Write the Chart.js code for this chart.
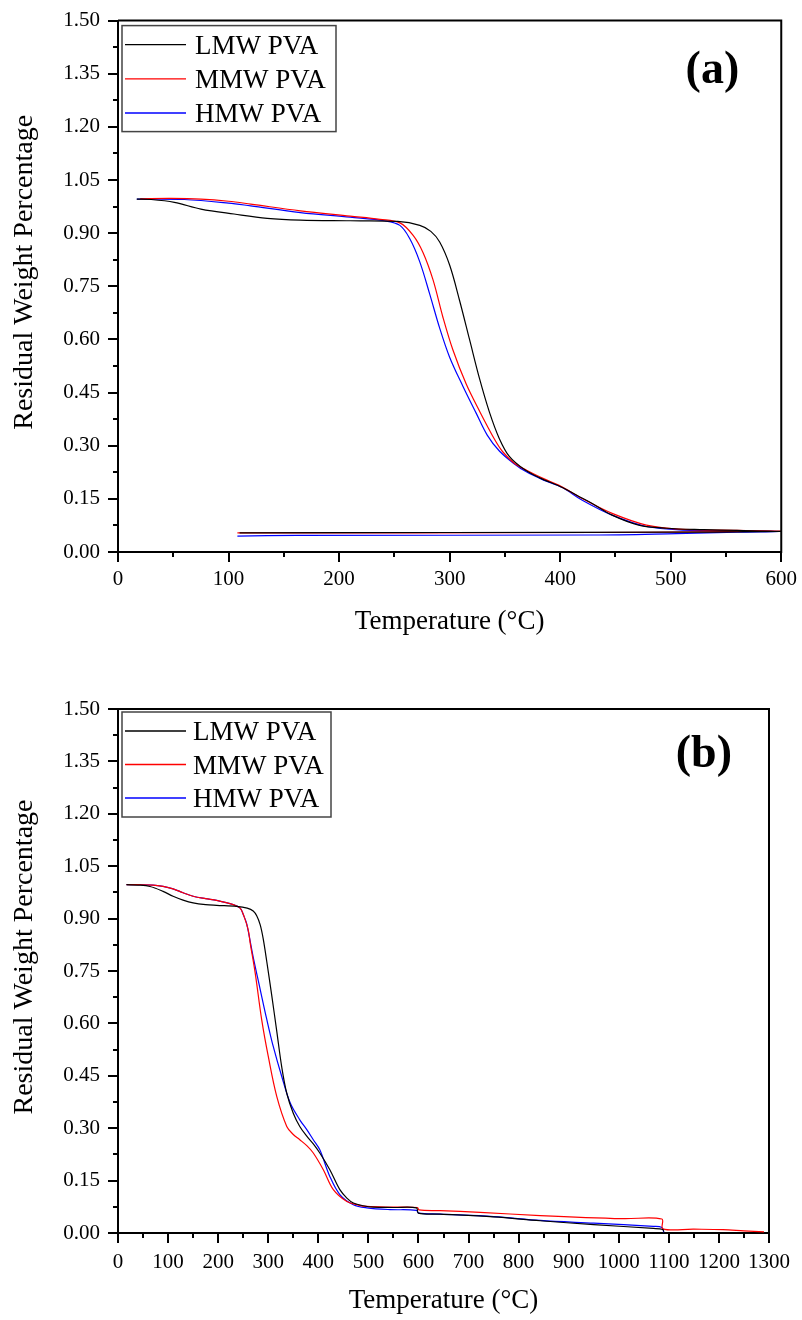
<!DOCTYPE html>
<html>
<head>
<meta charset="utf-8">
<title>Residual weight vs temperature</title>
<script src="https://cdn.jsdelivr.net/npm/chart.js@4/dist/chart.umd.min.js"></script>
<style>
  html, body { margin: 0; padding: 0; background: #fff; }
  canvas { display: block; }
</style>
</head>
<body>
<canvas id="chartA" width="802" height="660" style="width:802px;height:660px"></canvas>
<canvas id="chartB" width="802" height="660" style="width:802px;height:660px"></canvas>
<script>
// ---- data ----
const seriesNames = ['LMW PVA', 'MMW PVA', 'HMW PVA'];
const yTicks = [0, 0.15, 0.30, 0.45, 0.60, 0.75, 0.90, 1.05, 1.20, 1.35, 1.50];
const xTicksA = [0, 100, 200, 300, 400, 500, 600];
const xTicksB = [0, 100, 200, 300, 400, 500, 600, 700, 800, 900, 1000, 1100, 1200, 1300];

// panel (a): heating to 600 °C, then the run steps back down
const tempA_LMW = [17, 30, 51, 75, 105, 135, 165, 210, 253, 273, 283, 291, 300, 309, 318, 327, 336, 345, 354, 368, 381, 402, 415, 429, 447, 471, 496, 530, 560, 600, 500, 300, 110];
const weightA_LMW = [0.996, 0.995, 0.987, 0.968, 0.954, 0.942, 0.937, 0.935, 0.933, 0.922, 0.905, 0.875, 0.81, 0.71, 0.60, 0.49, 0.395, 0.32, 0.27, 0.232, 0.21, 0.182, 0.16, 0.137, 0.104, 0.076, 0.067, 0.063, 0.061, 0.058, 0.056, 0.055, 0.054];

const tempA_MMW = [20, 48, 75, 100, 120, 165, 210, 237, 255, 267, 276, 285, 294, 303, 315, 327, 341, 348, 358, 370, 385, 399, 423, 447, 478, 511, 560, 600, 430, 108];
const weightA_MMW = [0.997, 0.998, 0.996, 0.99, 0.982, 0.963, 0.948, 0.939, 0.929, 0.894, 0.845, 0.768, 0.662, 0.57, 0.474, 0.398, 0.316, 0.283, 0.252, 0.23, 0.207, 0.188, 0.146, 0.109, 0.076, 0.064, 0.061, 0.059, 0.055, 0.054];

const tempA_HMW = [17, 60, 100, 120, 165, 210, 241, 255, 264, 273, 282, 291, 300, 312, 324, 334, 345, 358, 369, 385, 402, 420, 447, 478, 511, 560, 600, 560, 505, 430, 162, 108];
const weightA_HMW = [0.996, 0.995, 0.985, 0.977, 0.958, 0.945, 0.935, 0.922, 0.884, 0.819, 0.728, 0.632, 0.55, 0.468, 0.392, 0.33, 0.285, 0.25, 0.227, 0.203, 0.182, 0.146, 0.104, 0.072, 0.062, 0.06, 0.058, 0.056, 0.052, 0.048, 0.047, 0.045];

// panel (b): heating to 1300 °C
const tempB_LMW = [17, 40, 64, 90, 110, 130, 150, 175, 197, 237, 258, 270, 277, 284, 290, 297, 307, 317, 327, 337, 350, 363, 377, 390, 403, 423, 443, 457, 470, 490, 510, 550, 596, 600, 643, 750, 843, 950, 1069, 1088, 1090];
const weightB_LMW = [0.997, 0.996, 0.992, 0.978, 0.964, 0.953, 0.945, 0.94, 0.938, 0.935, 0.93, 0.922, 0.908, 0.882, 0.842, 0.778, 0.68, 0.578, 0.475, 0.40, 0.343, 0.305, 0.277, 0.255, 0.229, 0.181, 0.124, 0.1, 0.086, 0.078, 0.074, 0.073, 0.072, 0.057, 0.054, 0.046, 0.035, 0.024, 0.013, 0.01, 0.004];

const tempB_MMW = [17, 40, 70, 90, 110, 130, 150, 175, 197, 230, 244, 252, 260, 264, 274, 287, 300, 317, 337, 350, 363, 377, 390, 410, 430, 457, 480, 497, 550, 598, 601, 643, 723, 843, 1009, 1086, 1088, 1150, 1208, 1250, 1290];
const weightB_MMW = [0.997, 0.997, 0.996, 0.992, 0.985, 0.974, 0.964, 0.957, 0.952, 0.94, 0.93, 0.905, 0.868, 0.83, 0.744, 0.61, 0.506, 0.391, 0.305, 0.282, 0.267, 0.25, 0.229, 0.181, 0.124, 0.09, 0.08, 0.076, 0.074, 0.073, 0.066, 0.064, 0.059, 0.05, 0.041, 0.04, 0.012, 0.011, 0.0095, 0.006, 0.003];

const tempB_HMW = [17, 40, 70, 90, 110, 130, 150, 175, 197, 230, 244, 250, 257, 270, 284, 297, 310, 327, 344, 363, 377, 390, 403, 423, 443, 470, 497, 543, 596, 600, 643, 750, 843, 950, 1069, 1086, 1090];
const weightB_HMW = [0.997, 0.997, 0.996, 0.992, 0.985, 0.974, 0.964, 0.957, 0.952, 0.94, 0.93, 0.912, 0.885, 0.79, 0.697, 0.612, 0.534, 0.448, 0.372, 0.324, 0.296, 0.267, 0.238, 0.162, 0.11, 0.081, 0.072, 0.067, 0.065, 0.057, 0.054, 0.047, 0.036, 0.028, 0.019, 0.016, 0.002];

// ---- styling ----
const seriesColors = ['#000000', '#ff0000', '#0000ff'];
const serif = "'Liberation Serif', 'Times New Roman', serif";

// box frame on top/right + long major and short minor ticks outside the axes
const frameTicks = {
  id: 'frameTicks',
  afterDraw(chart) {
    const {ctx, chartArea: a, scales: {x, y}} = chart;
    const mids = v => v.slice(1).map((w, i) => (w + v[i]) / 2);
    const xt = x.ticks.map(t => t.value), yt = y.ticks.map(t => t.value);
    ctx.save();
    ctx.strokeStyle = '#000';
    ctx.lineWidth = 2;
    ctx.beginPath();
    ctx.moveTo(a.left, a.top);
    ctx.lineTo(a.right, a.top);
    ctx.lineTo(a.right, a.bottom + 1);
    ctx.stroke();
    ctx.beginPath();
    xt.forEach(v => { const p = Math.round(x.getPixelForValue(v)); ctx.moveTo(p, a.bottom); ctx.lineTo(p, a.bottom + 10); });
    mids(xt).forEach(v => { const p = Math.round(x.getPixelForValue(v)); ctx.moveTo(p, a.bottom); ctx.lineTo(p, a.bottom + 5); });
    yt.forEach(v => { const p = Math.round(y.getPixelForValue(v)); ctx.moveTo(a.left, p); ctx.lineTo(a.left - 10, p); });
    mids(yt).forEach(v => { const p = Math.round(y.getPixelForValue(v)); ctx.moveTo(a.left, p); ctx.lineTo(a.left - 5, p); });
    ctx.stroke();
    ctx.restore();
  }
};

// legend in a bordered box at the top-left of the plot
const boxLegend = {
  id: 'boxLegend',
  afterDraw(chart, args, o) {
    const {ctx, chartArea: a} = chart;
    const left = a.left + o.dx, top = a.top + o.dy;
    ctx.save();
    ctx.fillStyle = '#fff';
    ctx.fillRect(left, top, o.w, o.h);
    ctx.strokeStyle = '#444';
    ctx.lineWidth = 1.5;
    ctx.strokeRect(left, top, o.w, o.h);
    ctx.font = o.size + 'px ' + serif;
    ctx.textBaseline = 'alphabetic';
    chart.data.datasets.forEach((ds, i) => {
      const ly = top + o.first + i * o.gap;
      ctx.strokeStyle = ds.borderColor;
      ctx.lineWidth = 1.3;
      ctx.beginPath();
      ctx.moveTo(left + 3, ly);
      ctx.lineTo(left + 64, ly);
      ctx.stroke();
      ctx.fillStyle = '#000';
      ctx.fillText(ds.label, left + o.textX, ly + 9);
    });
    ctx.restore();
  }
};

// bold panel letter in the upper right corner
const panelLabel = {
  id: 'panelLabel',
  afterDraw(chart, args, o) {
    const {ctx, chartArea: a} = chart;
    ctx.save();
    ctx.font = 'bold 46px ' + serif;
    ctx.fillStyle = '#000';
    ctx.textAlign = 'right';
    ctx.textBaseline = 'alphabetic';
    ctx.fillText(o.text, a.right - o.dx, a.top + o.dy);
    ctx.restore();
  }
};

function buildChart(id, temps, weights, xTicks, p) {
  const datasets = seriesNames.map((name, i) => ({
    label: name,
    data: temps[i].map((t, k) => ({x: t, y: weights[i][k]})),
    borderColor: seriesColors[i],
    borderWidth: 1.2,
    pointRadius: 0,
    tension: 0.35,
    fill: false
  }));
  return new Chart(document.getElementById(id), {
    type: 'line',
    data: {datasets},
    options: {
      responsive: false,
      animation: false,
      devicePixelRatio: 1,
      layout: {padding: {left: 0, top: p.top, right: p.right, bottom: 0}},
      plugins: {
        legend: {display: false},
        tooltip: {enabled: false},
        boxLegend: p.legend,
        panelLabel: p.label
      },
      scales: {
        x: {
          type: 'linear',
          min: xTicks[0],
          max: xTicks[xTicks.length - 1],
          afterBuildTicks: s => { s.ticks = xTicks.map(v => ({value: v})); },
          afterFit: s => { s.height = p.xHeight; },
          grid: {display: false, tickLength: 10},
          border: {display: true, color: '#000', width: 2},
          ticks: {
            autoSkip: false, maxRotation: 0, padding: p.xPad, color: '#000',
            font: {family: serif, size: 21},
            callback: v => String(v)
          },
          title: {
            display: true, text: 'Temperature (°C)', color: '#000',
            font: {family: serif, size: 27},
            padding: {top: 0, bottom: p.xTitleBottom}
          }
        },
        y: {
          type: 'linear',
          min: 0,
          max: 1.5,
          afterBuildTicks: s => { s.ticks = yTicks.map(v => ({value: v})); },
          afterFit: s => { s.width = 118; },
          grid: {display: false, tickLength: 10},
          border: {display: true, color: '#000', width: 2},
          ticks: {
            padding: 8, color: '#000',
            font: {family: serif, size: 21},
            callback: v => v.toFixed(2)
          },
          title: {
            display: true, text: '    Residual Weight Percentage', color: '#000',
            font: {family: serif, size: 28},
            padding: {top: 8, bottom: 0}
          }
        }
      }
    },
    plugins: [frameTicks, boxLegend, panelLabel]
  });
}

buildChart('chartA',
  [tempA_LMW, tempA_MMW, tempA_HMW],
  [weightA_LMW, weightA_MMW, weightA_HMW],
  xTicksA,
  {
    top: 17, right: 20, xHeight: 108, xPad: 5, xTitleBottom: 22,
    legend: {dx: 4, dy: 5, w: 214, h: 106, first: 19, gap: 34.2, size: 27, textX: 73},
    label: {text: '(a)', dx: 42, dy: 62}
  });

buildChart('chartB',
  [tempB_LMW, tempB_MMW, tempB_HMW],
  [weightB_LMW, weightB_MMW, weightB_HMW],
  xTicksB,
  {
    top: 49, right: 33, xHeight: 87, xPad: 7, xTitleBottom: 3,
    legend: {dx: 4, dy: 3, w: 209, h: 105, first: 19, gap: 33.5, size: 27, textX: 71},
    label: {text: '(b)', dx: 37, dy: 58}
  });
</script>
</body>
</html>
